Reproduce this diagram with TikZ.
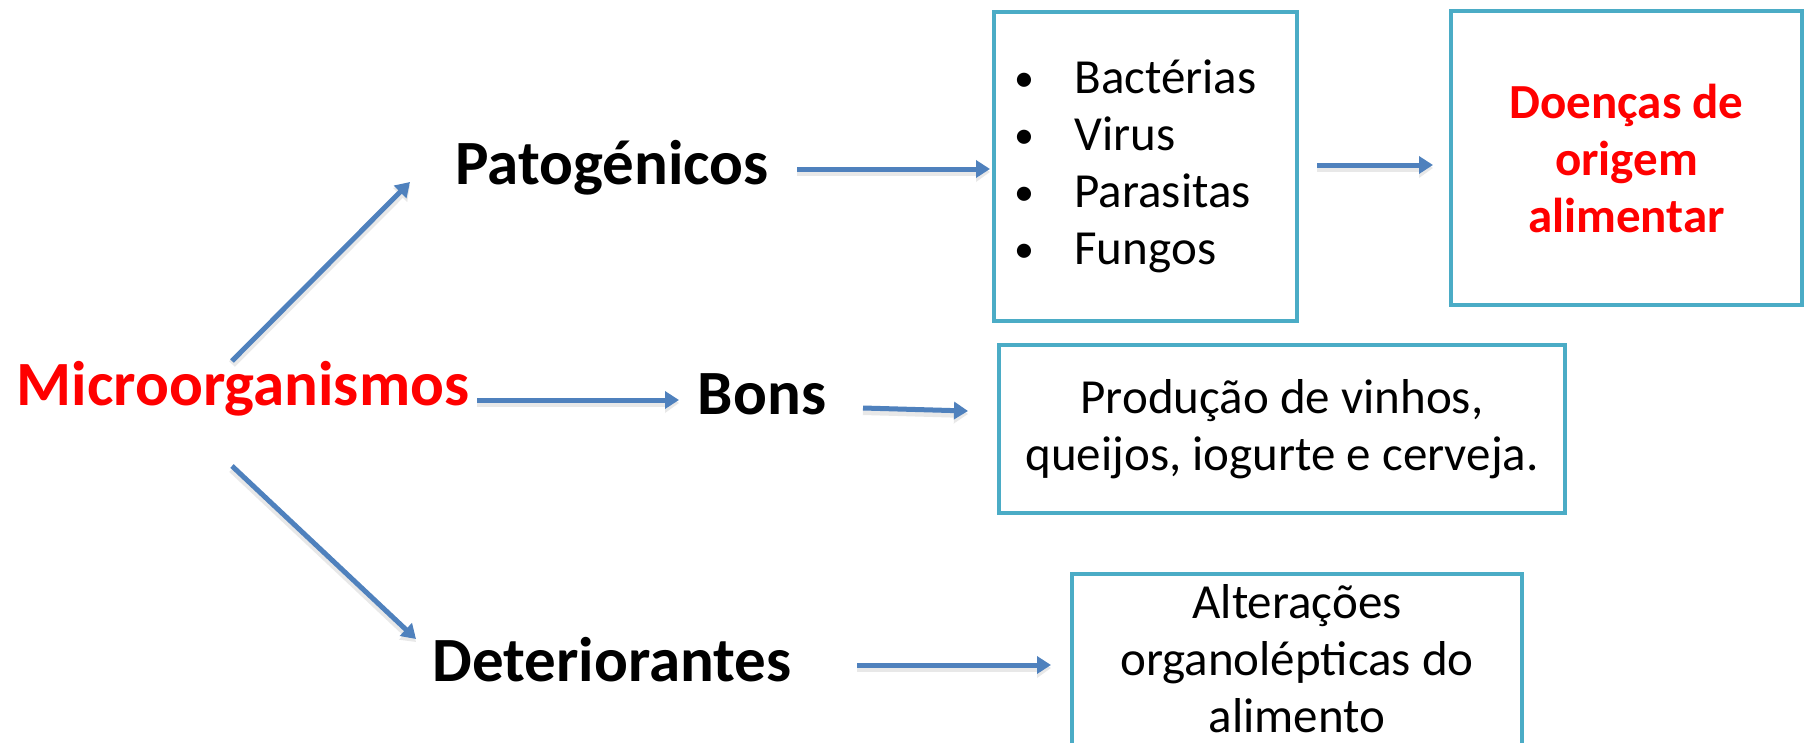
\documentclass[tikz,border=0pt]{standalone}
\usepackage{fontspec}
\setmainfont{Carlito}
\usetikzlibrary{arrows.meta}
\definecolor{boxblue}{HTML}{4BACC6}
\definecolor{arrowblue}{HTML}{4F81BD}
\definecolor{redtxt}{HTML}{FF0000}
\newcommand{\bul}{\makebox[62pt][l]{\hspace*{2pt}\raisebox{2pt}{\fontsize{40}{40}\selectfont •}}}
\begin{document}
\begin{tikzpicture}[x=1pt,y=-1pt,
  mainlbl/.style={font=\fontsize{63}{70}\selectfont\bfseries, inner sep=0pt, anchor=base},
  boxnode/.style={draw=boxblue, line width=4pt, font=\fontsize{49}{57}\selectfont, align=center},
  arr/.style={draw=arrowblue, line width=5pt, -{Triangle[length=14pt,width=17pt]},
    preaction={draw=black!9, line width=8pt, -{Triangle[length=14pt,width=19pt]}, transform canvas={yshift=-3pt}}}
]
\useasboundingbox (0,0) rectangle (1804,742);
\clip (0,0) rectangle (1804,742);
\fill[white] (0,0) rectangle (1804,742);

\node[mainlbl, text=redtxt] (micro) at (243,405) {Microorganismos};
\node[mainlbl] (pato) at (612,184) {Patogénicos};
\node[mainlbl] (bons) at (762,414) {Bons};
\node[mainlbl] (det) at (612,681) {Deteriorantes};

\node[boxnode, align=left, minimum width=303pt, minimum height=309pt] (lista) at (1145.5,166)
  {\bul Bactérias\hspace*{22pt}\\\bul Virus\\\bul Parasitas\\\bul Fungos};
\node[boxnode, text=redtxt, font=\fontsize{49}{57}\selectfont\bfseries, minimum width=351pt, minimum height=294pt] (doen) at (1626.5,158)
  {Doenças de\\origem\\alimentar};
\node[boxnode, minimum width=566pt, minimum height=168pt] (prod) at (1282,429)
  {Produção de vinhos,\\queijos, iogurte e cerveja.};
\node[boxnode, anchor=north, minimum width=450pt, inner ysep=10pt, text depth=30pt] (alt) at (1297,572)
  {Alterações\\organolépticas do\\alimento};

\draw[arr] ([shift={(-11,-44)}]micro.base) -- ([shift={(-202,-2)}]pato.base);
\draw[arr] ([shift={(234,-5)}]micro.base) -- ([shift={(-83,-14)}]bons.base);
\draw[arr] ([shift={(-11,61)}]micro.base) -- ([shift={(-196,-42)}]det.base);
\draw[arr] ([shift={(185,-15)}]pato.base) -- ([shift={(-2,3)}]lista.west);
\draw[arr] ([shift={(18,-1)}]lista.east) -- ([shift={(-16,7)}]doen.west);
\draw[arr] ([shift={(101,-6)}]bons.base) -- ([shift={(-29,-18)}]prod.west);
\draw[arr] ([shift={(245,-16)}]det.base) -- ([shift={(-19,93)}]alt.north west);
\end{tikzpicture}
\end{document}
